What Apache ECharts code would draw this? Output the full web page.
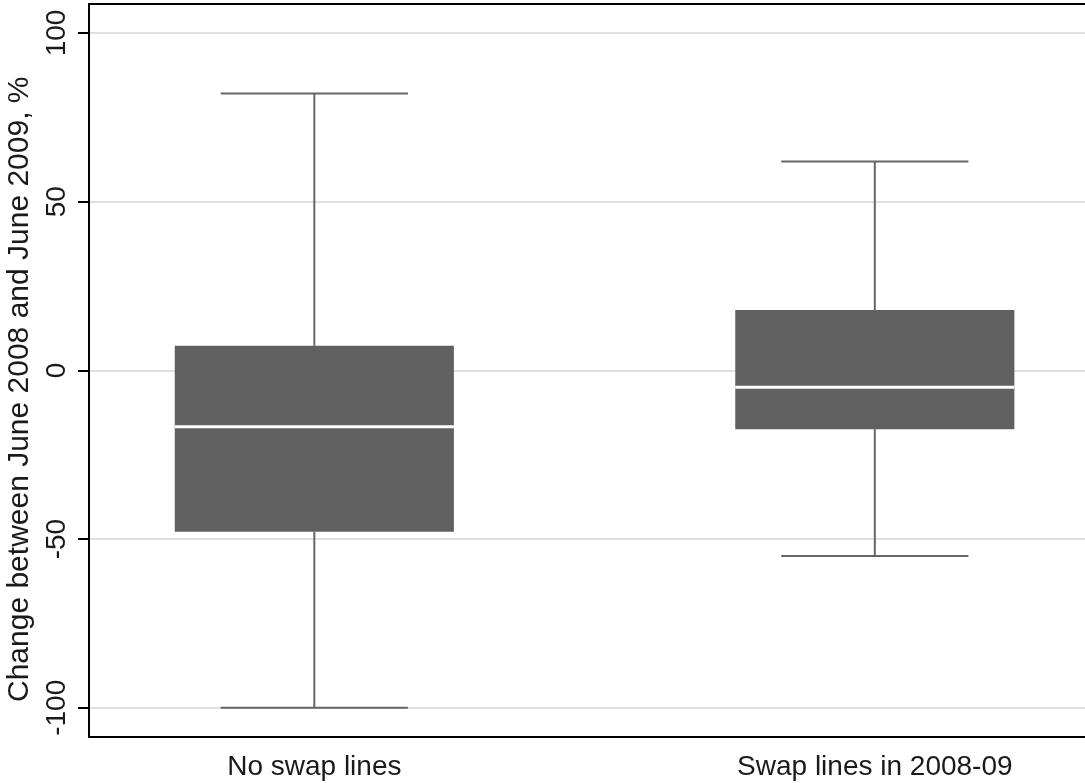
<!DOCTYPE html>
<html>
<head>
<meta charset="utf-8">
<script src="https://cdn.jsdelivr.net/npm/echarts@6/dist/echarts.min.js"></script>
<style>
  html, body { margin: 0; padding: 0; background: #ffffff; }
  #chart { width: 1085px; height: 783px; }
</style>
</head>
<body>
<div id="chart"></div>
<script>
// ---- data ----
const categories = ['No swap lines', 'Swap lines in 2008-09'];
const positions = [1, 2];
const whiskerLow = [-100, -55];
const q1 = [-47.8, -17.4];
const median = [-16.7, -5.0];
const q3 = [7.3, 17.9];
const whiskerHigh = [82.1, 61.9];
const yTicks = [-100, -50, 0, 50, 100];
const yTitle = 'Change between June 2008 and June 2009, %';

const FONT = '"Liberation Sans", Arial, sans-serif';
const boxData = positions.map((p, i) => [p, whiskerLow[i], q1[i], median[i], q3[i], whiskerHigh[i]]);

const chart = echarts.init(document.getElementById('chart'), null, { renderer: 'canvas' });

chart.setOption({
  backgroundColor: '#ffffff',
  animation: false,
  grid: { left: 89, top: 4, right: 0, bottom: 46.5, containLabel: false, outerBoundsMode: 'none' },
  xAxis: [
    {
      type: 'value',
      min: 0.598,
      max: 2.375,
      position: 'bottom',
      axisLine: { show: true, onZero: false, lineStyle: { color: '#000000', width: 2 } },
      axisTick: { show: false },
      splitLine: { show: false },
      axisLabel: {
        customValues: positions,
        formatter: v => categories[positions.indexOf(v)] || '',
        fontFamily: FONT,
        fontSize: 28,
        color: '#1a1a1a',
        margin: 17
      }
    },
    {
      type: 'value',
      min: 0.598,
      max: 2.375,
      position: 'top',
      axisLine: { show: true, onZero: false, lineStyle: { color: '#000000', width: 2 } },
      axisTick: { show: false },
      axisLabel: { show: false },
      splitLine: { show: false }
    }
  ],
  yAxis: {
    type: 'value',
    min: -108.5,
    max: 108.6,
    name: yTitle,
    nameLocation: 'middle',
    nameGap: 52,
    nameRotate: 90,
    nameTextStyle: {
      fontFamily: FONT,
      fontSize: 30,
      color: '#1a1a1a',
      padding: [0, 38, 0, 0]
    },
    axisLine: { show: true, onZero: false, lineStyle: { color: '#000000', width: 2 } },
    axisTick: {
      show: true,
      inside: false,
      customValues: yTicks,
      length: 11,
      lineStyle: { color: '#000000', width: 2 }
    },
    axisLabel: {
      customValues: yTicks,
      rotate: 90,
      fontFamily: FONT,
      fontSize: 28,
      color: '#1a1a1a',
      margin: 18
    },
    splitLine: { show: true, lineStyle: { color: '#e0e0e0', width: 2 } }
  },
  series: [
    {
      type: 'custom',
      xAxisIndex: 0,
      yAxisIndex: 0,
      data: boxData,
      renderItem: function (params, api) {
        const x = api.value(0);
        const lo = api.coord([x, api.value(1)]);
        const b1 = api.coord([x, api.value(2)]);
        const md = api.coord([x, api.value(3)]);
        const b3 = api.coord([x, api.value(4)]);
        const hi = api.coord([x, api.value(5)]);
        const cx = lo[0];
        const half = api.size([0.249, 0])[0];
        const capHalf = api.size([0.167, 0])[0];
        const wStyle = { stroke: '#666666', lineWidth: 2, fill: null };
        return {
          type: 'group',
          children: [
            { type: 'line', shape: { x1: cx, y1: hi[1], x2: cx, y2: b3[1] }, style: wStyle },
            { type: 'line', shape: { x1: cx, y1: b1[1], x2: cx, y2: lo[1] }, style: wStyle },
            { type: 'line', shape: { x1: cx - capHalf, y1: hi[1], x2: cx + capHalf, y2: hi[1] }, style: wStyle },
            { type: 'line', shape: { x1: cx - capHalf, y1: lo[1], x2: cx + capHalf, y2: lo[1] }, style: wStyle },
            { type: 'rect', shape: { x: cx - half, y: b3[1], width: 2 * half, height: b1[1] - b3[1] },
              style: { fill: '#606060', stroke: null } },
            { type: 'line', shape: { x1: cx - half, y1: md[1], x2: cx + half, y2: md[1] },
              style: { stroke: '#ffffff', lineWidth: 3 } }
          ]
        };
      }
    }
  ]
});
</script>
</body>
</html>
